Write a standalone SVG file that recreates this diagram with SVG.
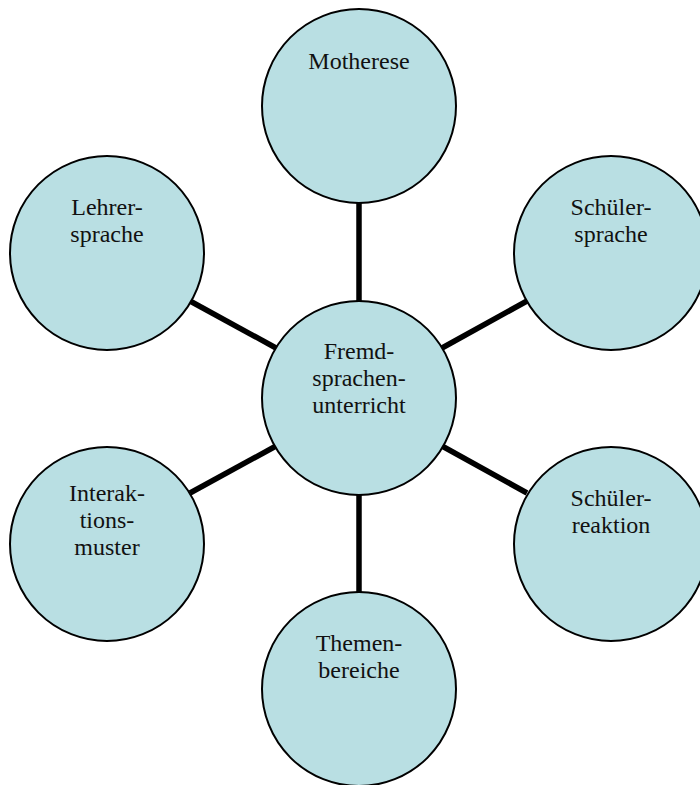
<svg xmlns="http://www.w3.org/2000/svg" width="700" height="785" viewBox="0 0 700 785">
<style>
.n{fill:#b9dfe3;stroke:#000;stroke-width:2}
.t{font-family:"Liberation Serif","Times New Roman",serif;font-size:24px;fill:#111;text-anchor:middle}
.c{stroke:#000;stroke-width:5.5;fill:none}
</style>
<rect width="700" height="785" fill="#fff"/>
<g id="connectors">
<line class="c" x1="359" y1="202" x2="359" y2="302"/>
<line class="c" x1="359" y1="494" x2="359" y2="593"/>
<line class="c" x1="190" y1="301" x2="276" y2="348"/>
<line class="c" x1="527" y1="301" x2="442" y2="348"/>
<line class="c" x1="190" y1="493" x2="276" y2="446"/>
<line class="c" x1="527" y1="493" x2="442" y2="446"/>
</g>
<g id="center">
<circle class="n" cx="359" cy="398" r="97"/>
<text class="t" x="359" y="359">Fremd-</text>
<text class="t" x="359" y="386">sprachen-</text>
<text class="t" x="359" y="413">unterricht</text>
</g>
<g id="motherese">
<circle class="n" cx="359" cy="106" r="97"/>
<text class="t" x="359" y="69">Motherese</text>
</g>
<g id="lehrersprache">
<circle class="n" cx="107" cy="253" r="97"/>
<text class="t" x="107" y="215">Lehrer-</text>
<text class="t" x="107" y="242">sprache</text>
</g>
<g id="schuelersprache">
<circle class="n" cx="611" cy="253" r="97"/>
<text class="t" x="611" y="215">Schüler-</text>
<text class="t" x="611" y="242">sprache</text>
</g>
<g id="interaktionsmuster">
<circle class="n" cx="107" cy="544" r="97"/>
<text class="t" x="107" y="501">Interak-</text>
<text class="t" x="107" y="528">tions-</text>
<text class="t" x="107" y="555">muster</text>
</g>
<g id="schuelerreaktion">
<circle class="n" cx="611" cy="544" r="97"/>
<text class="t" x="611" y="506">Schüler-</text>
<text class="t" x="611" y="533">reaktion</text>
</g>
<g id="themenbereiche">
<circle class="n" cx="359" cy="689" r="97"/>
<text class="t" x="359" y="651">Themen-</text>
<text class="t" x="359" y="678">bereiche</text>
</g>
</svg>
